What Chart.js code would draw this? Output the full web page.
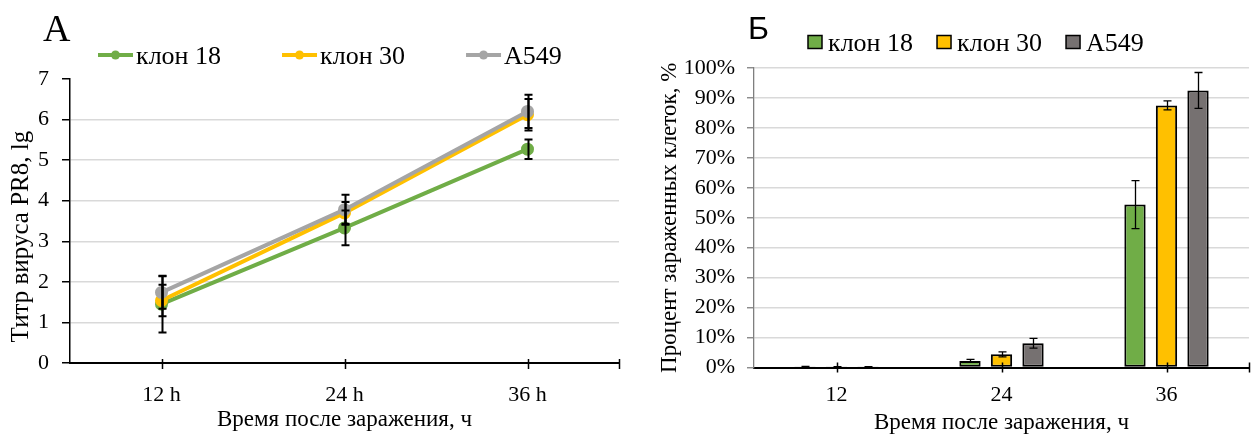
<!DOCTYPE html>
<html>
<head>
<meta charset="utf-8">
<script src="https://cdn.jsdelivr.net/npm/chart.js@4.4.1/dist/chart.umd.min.js"></script>
<style>
  body { margin: 0; background: #fff; }
  .panel { position: absolute; top: 0; width: 628px; height: 437px; }
  #panelA { left: 0; }
  #panelB { left: 628px; }
  .letter { position: absolute; line-height: 1; color: #000; }
  #letterA { left: 43px; top: 6px; font: 38px "Liberation Serif", "Times New Roman", serif; }
  #letterB { left: 748px; top: 10px; font: 32px "Liberation Sans", Arial, sans-serif; }
</style>
</head>
<body>
<div class="panel" id="panelA"><canvas id="chartA"></canvas></div>
<div class="panel" id="panelB"><canvas id="chartB"></canvas></div>
<div class="letter" id="letterA">А</div>
<div class="letter" id="letterB">Б</div>

<script>
// Время после заражения
const hoursLabelsA = ['12 h', '24 h', '36 h'];
const hoursLabelsB = ['12', '24', '36'];
const seriesNames = ['клон 18', 'клон 30', 'A549'];

// Титр вируса PR8, lg (среднее и отклонение)
const titerClone18 = [1.45, 3.33, 5.27];
const titerClone30 = [1.54, 3.70, 6.12];
const titerA549 = [1.74, 3.78, 6.20];
const titerErrClone18 = [0.70, 0.43, 0.24];
const titerErrClone30 = [0.39, 0.27, 0.39];
const titerErrA549 = [0.40, 0.37, 0.41];

// Процент зараженных клеток
const infectedClone18 = [0.3, 2.2, 54.4];
const infectedClone30 = [0.2, 4.4, 87.5];
const infectedA549 = [0.2, 8.1, 92.5];
const infectedErrClone18 = [0.1, 0.5, 8.0];
const infectedErrClone30 = [0.1, 0.85, 1.5];
const infectedErrA549 = [0.1, 1.65, 6.0];

const colors = ['#70ad47', '#ffc000', '#a5a5a5'];
const barColors = ['#70ad47', '#ffc000', '#767171'];

const serif = '"Liberation Serif", "Times New Roman", serif';
Chart.defaults.font.family = serif;
Chart.defaults.color = '#000';

// усы погрешностей поверх наборов данных
const errorBars = {
  id: 'errorBars',
  afterDatasetsDraw(chart, args, opts) {
    const ctx = chart.ctx;
    const y = chart.scales.y;
    ctx.save();
    ctx.strokeStyle = '#000';
    ctx.lineWidth = opts.width;
    chart.data.datasets.forEach((ds, i) => {
      const meta = chart.getDatasetMeta(i);
      meta.data.forEach((el, j) => {
        const v = ds.data[j], e = ds.errors[j];
        const x = Math.round(el.x) + 0.5;
        const top = y.getPixelForValue(v + e);
        const bot = y.getPixelForValue(v - e);
        ctx.beginPath();
        ctx.moveTo(x, top); ctx.lineTo(x, bot);
        ctx.moveTo(x - opts.cap, top); ctx.lineTo(x + opts.cap, top);
        ctx.moveTo(x - opts.cap, bot); ctx.lineTo(x + opts.cap, bot);
        ctx.stroke();
      });
    });
    ctx.restore();
  }
};

// засечки на оси X, пересекающие линию оси
const crossTicks = {
  id: 'crossTicks',
  afterDraw(chart, args, opts) {
    const ctx = chart.ctx;
    const x = chart.scales.x;
    const yb = x.top;
    ctx.save();
    ctx.strokeStyle = '#000';
    ctx.lineWidth = opts.width;
    ctx.beginPath();
    const pts = x.ticks.map((t, i) => x.getPixelForTick(i));
    pts.push(x.right);
    pts.forEach(px => {
      const p = Math.round(px) + 0.5;
      ctx.moveTo(p, yb - opts.up);
      ctx.lineTo(p, yb + opts.down);
    });
    ctx.stroke();
    ctx.restore();
  }
};

// легенда в одну строку
const legendRow = {
  id: 'legendRow',
  afterDraw(chart, args, o) {
    const ctx = chart.ctx;
    ctx.save();
    ctx.font = o.font;
    ctx.textBaseline = 'alphabetic';
    let x = o.x;
    chart.data.datasets.forEach(ds => {
      if (o.kind === 'line') {
        ctx.strokeStyle = ds.borderColor;
        ctx.lineWidth = ds.borderWidth;
        ctx.beginPath();
        ctx.moveTo(x, o.markY);
        ctx.lineTo(x + o.sampleW, o.markY);
        ctx.stroke();
        ctx.fillStyle = ds.borderColor;
        ctx.beginPath();
        ctx.arc(x + o.sampleW / 2, o.markY, ds.pointRadius, 0, Math.PI * 2);
        ctx.fill();
      } else {
        ctx.fillStyle = ds.backgroundColor;
        ctx.fillRect(x, o.markY - o.boxH / 2, o.sampleW, o.boxH);
        ctx.strokeStyle = '#000';
        ctx.lineWidth = 1.5;
        ctx.strokeRect(x, o.markY - o.boxH / 2, o.sampleW, o.boxH);
      }
      x += o.sampleW + o.textGap;
      ctx.fillStyle = '#000';
      ctx.fillText(ds.label, x, o.baseY);
      x += ctx.measureText(ds.label).width + o.itemGap;
    });
    ctx.restore();
  }
};

function lineSet(label, data, errors, color, order) {
  return {
    label: label, data: data, errors: errors,
    borderColor: color, backgroundColor: color,
    pointBackgroundColor: color, pointBorderColor: color,
    borderWidth: 4, pointRadius: 4.5, pointHoverRadius: 4.5,
    tension: 0, order: order
  };
}

function barSet(label, data, errors, color) {
  return {
    label: label, data: data, errors: errors,
    backgroundColor: color, borderColor: '#000', borderWidth: 2,
    borderSkipped: false,
    categoryPercentage: 0.573, barPercentage: 0.676
  };
}

// График А: титр вируса
new Chart(document.getElementById('chartA'), {
  type: 'line',
  data: {
    labels: hoursLabelsA,
    datasets: [
      lineSet(seriesNames[0], titerClone18, titerErrClone18, colors[0], 2),
      lineSet(seriesNames[1], titerClone30, titerErrClone30, colors[1], 1),
      lineSet(seriesNames[2], titerA549, titerErrA549, colors[2], 0)
    ]
  },
  options: {
    responsive: true,
    maintainAspectRatio: false,
    animation: false,
    layout: { padding: { top: 79, right: 9, bottom: 0, left: 0 } },
    plugins: {
      legend: { display: false },
      tooltip: { enabled: false },
      errorBars: { width: 2, cap: 4 },
      crossTicks: { width: 1.5, up: 4, down: 6 },
      legendRow: { kind: 'line', x: 98, markY: 55, baseY: 64, sampleW: 35, textGap: 3, itemGap: 61, font: '26px ' + serif }
    },
    scales: {
      x: {
        offset: true,
        grid: { display: false },
        border: { color: '#000', width: 2 },
        ticks: { font: { size: 22 }, padding: 11, maxRotation: 0 },
        title: { display: true, text: 'Время после заражения, ч', font: { size: 23 }, padding: { top: 0, bottom: 3 } },
        afterFit: s => { s.height = 74; }
      },
      y: {
        min: 0, max: 7,
        ticks: { stepSize: 1, font: { size: 22 }, padding: 13 },
        grid: {
          color: c => (c.tick && c.tick.value === 7) ? 'rgba(0,0,0,0)' : '#d9d9d9',
          lineWidth: 1.5, tickColor: '#000', tickLength: 8, tickWidth: 1.5
        },
        border: { color: '#000', width: 1.5 },
        title: { display: true, text: 'Титр вируса PR8, lg\u00a0\u00a0\u00a0\u00a0\u00a0', font: { size: 25 }, padding: { top: 6, bottom: 0 } },
        afterFit: s => { s.width = 70; }
      }
    }
  },
  plugins: [errorBars, crossTicks, legendRow]
});

// График Б: процент зараженных клеток
new Chart(document.getElementById('chartB'), {
  type: 'bar',
  data: {
    labels: hoursLabelsB,
    datasets: [
      barSet(seriesNames[0], infectedClone18, infectedErrClone18, barColors[0]),
      barSet(seriesNames[1], infectedClone30, infectedErrClone30, barColors[1]),
      barSet(seriesNames[2], infectedA549, infectedErrA549, barColors[2])
    ]
  },
  options: {
    responsive: true,
    maintainAspectRatio: false,
    animation: false,
    layout: { padding: { top: 68, right: 7, bottom: 0, left: 0 } },
    plugins: {
      legend: { display: false },
      tooltip: { enabled: false },
      errorBars: { width: 1.3, cap: 4 },
      crossTicks: { width: 1.5, up: 5, down: 5 },
      legendRow: { kind: 'box', x: 180, markY: 42, baseY: 51, sampleW: 14, boxH: 13, textGap: 6, itemGap: 24, font: '26px ' + serif }
    },
    scales: {
      x: {
        grid: { display: false },
        border: { color: '#000', width: 2 },
        ticks: { font: { size: 22 }, padding: 7, maxRotation: 0 },
        title: { display: true, text: 'Время после заражения, ч', font: { size: 23 }, padding: { top: 0, bottom: 0 } },
        afterFit: s => { s.height = 69.5; }
      },
      y: {
        min: 0, max: 100,
        ticks: { stepSize: 10, font: { size: 22 }, padding: 12, callback: v => v + '%' },
        grid: { color: '#d9d9d9', lineWidth: 1.5, tickColor: '#7f7f7f', tickLength: 7, tickWidth: 1.3 },
        border: { color: '#7f7f7f', width: 1.3 },
        title: { display: true, text: 'Процент зараженных клеток, %', font: { size: 23 }, padding: { top: 28, bottom: 0 } },
        afterFit: s => { s.width = 126; }
      }
    }
  },
  plugins: [errorBars, crossTicks, legendRow]
});
</script>
</body>
</html>
